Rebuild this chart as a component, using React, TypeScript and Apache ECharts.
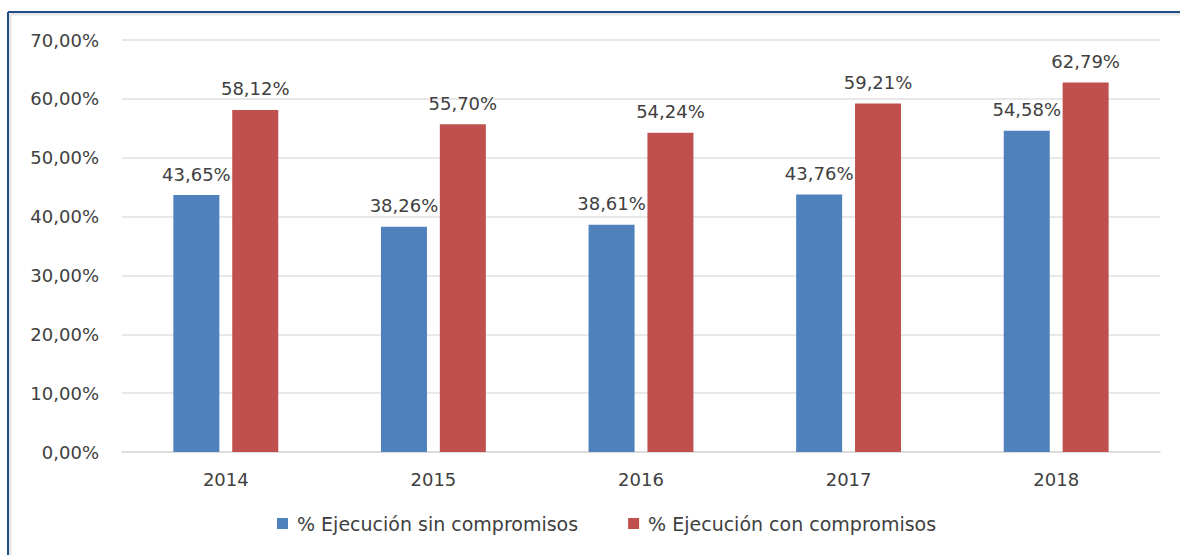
import React, { useEffect, useRef } from "react";
import * as echarts from "echarts";

const categories = ["2014", "2015", "2016", "2017", "2018"];
const sinCompromisos = [43.65, 38.26, 38.61, 43.76, 54.58];
const conCompromisos = [58.12, 55.7, 54.24, 59.21, 62.79];
const seriesNames = ["% Ejecución sin compromisos", "% Ejecución con compromisos"];

const fmt = (v: number) => v.toFixed(2).replace(".", ",") + "%";
const FONT = "DejaVu Sans, sans-serif";
const TXT = "#404040";

export default function App() {
  const ref = useRef<HTMLDivElement>(null);
  useEffect(() => {
    document.body.style.margin = "0";
    const chart = echarts.init(ref.current!, null, { renderer: "svg" });
    const label = {
      show: true,
      position: "top" as const,
      distance: 12,
      color: TXT,
      fontSize: 18,
      fontFamily: FONT,
      formatter: (p: any) => fmt(p.value),
    };
    chart.setOption({
      animation: false,
      backgroundColor: "#ffffff",
      textStyle: { fontFamily: FONT },
      grid: { left: 122, right: 20, top: 40, bottom: 103 },
      legend: {
        bottom: 17,
        left: 272,
        itemWidth: 11,
        itemHeight: 11,
        itemGap: 50,
        icon: "rect",
        textStyle: { color: TXT, fontSize: 19, fontFamily: FONT, padding: [0, 0, 0, 4] },
        data: seriesNames,
      },
      xAxis: {
        type: "category",
        data: categories,
        axisTick: { show: false },
        axisLine: { lineStyle: { color: "#d9d9d9", width: 1.5 } },
        axisLabel: { color: TXT, fontSize: 18, fontFamily: FONT, margin: 18 },
      },
      yAxis: {
        type: "value",
        min: 0,
        max: 70,
        interval: 10,
        axisLine: { show: false },
        axisTick: { show: false },
        splitLine: { lineStyle: { color: "#e0e0e0", width: 1.5 } },
        axisLabel: {
          color: TXT,
          fontSize: 18,
          fontFamily: FONT,
          margin: 23,
          formatter: (v: number) => fmt(v),
        },
      },
      series: [
        {
          name: seriesNames[0],
          type: "bar",
          data: sinCompromisos,
          barWidth: 46,
          barGap: "28%",
          itemStyle: { color: "#4f81bd" },
          label,
        },
        {
          name: seriesNames[1],
          type: "bar",
          data: conCompromisos,
          barWidth: 46,
          itemStyle: { color: "#c0504d" },
          label,
        },
      ],
      graphic: [
        { type: "line", shape: { x1: 10, y1: 14, x2: 1180, y2: 14 }, style: { stroke: "#e6e6e6", lineWidth: 3 } },
        { type: "line", shape: { x1: 10, y1: 14, x2: 10, y2: 555 }, style: { stroke: "#e6e6e6", lineWidth: 3 } },
        { type: "line", shape: { x1: 8, y1: 12, x2: 1180, y2: 12 }, style: { stroke: "#1f4e89", lineWidth: 2 } },
        { type: "line", shape: { x1: 8, y1: 12, x2: 8, y2: 555 }, style: { stroke: "#1f4e89", lineWidth: 2 } },
      ],
    });
    return () => chart.dispose();
  }, []);
  return <div ref={ref} style={{ width: 1180, height: 555 }} />;
}
